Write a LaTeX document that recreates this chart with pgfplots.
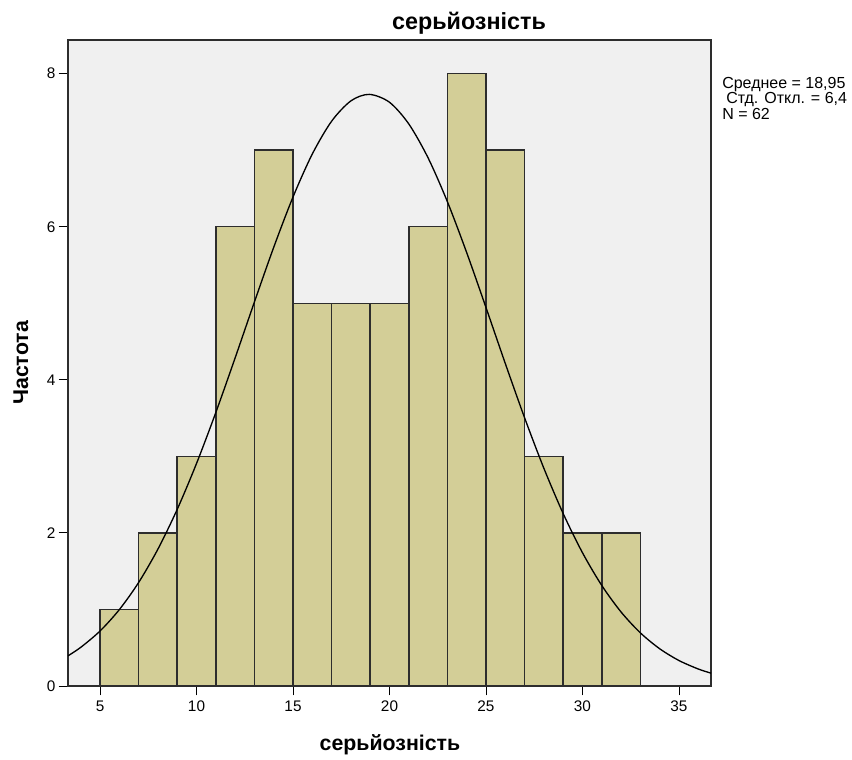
\documentclass[border=0pt]{standalone}
\usepackage{pgfplots}
\pgfplotsset{compat=1.18}
\usepackage{fontspec}
\setmainfont{Liberation Sans}
\definecolor{barfill}{RGB}{211,206,151}
\definecolor{bgc}{RGB}{240,240,240}
\definecolor{edge}{RGB}{45,45,45}
\begin{document}
\begin{tikzpicture}
\begin{axis}[
  at={(0,0)}, anchor=south west,
  scale only axis,
  width=482.25pt, height=484.5pt,
  xmin=3.34, xmax=36.66, ymin=0, ymax=8.44,
  axis background/.style={fill=bgc},
  axis line style={draw=edge, line width=1.1pt},
  xtick={5,10,...,35}, ytick={0,2,4,6,8},
  tick align=outside, tick pos=left,
  major tick length=7pt,
  tick style={draw=black, line width=0.7pt},
  ticklabel style={font=\fontsize{11.5}{13}\selectfont},
  /pgf/number format/assume math mode=true,
  xticklabel style={yshift=-0.5pt},
  yticklabel style={xshift=1pt},
  clip=true,
]
\addplot[ybar interval, fill=barfill, draw=edge, line width=1.1pt]
coordinates {(5,1) (7,2) (9,3) (11,6) (13,7) (15,5) (17,5) (19,5) (21,6) (23,8) (25,7) (27,3) (29,2) (31,2) (33,2)};
\addplot[smooth, black, line width=1pt] coordinates {
(3.34,0.3946) (4,0.5050) (5,0.7185) (6,0.9979) (7,1.3523) (8,1.7885) (9,2.3083)
(10,2.9074) (11,3.5736) (12,4.2862) (13,5.0173) (14,5.7314) (15,6.3889)
(16,6.9506) (17,7.3789) (18,7.6448) (18.95,7.7295) (20,7.6262) (21,7.3430)
(22,6.8996) (23,6.3271) (24,5.6619) (25,4.9446) (26,4.2137) (27,3.5045)
(28,2.8441) (29,2.2526) (30,1.7412) (31,1.3133) (32,0.9667) (33,0.6944)
(34,0.4868) (35,0.3329) (36,0.2222) (36.66,0.1680)};
\end{axis}
\node[font=\bfseries\fontsize{17.5}{20}\selectfont] at (300.75pt,497pt) {серьйозність};
\node[font=\bfseries\fontsize{16}{18}\selectfont] at (241.5pt,-44.25pt) {серьйозність};
\node[font=\bfseries\fontsize{16}{18}\selectfont, rotate=90] at (-35.25pt,242.25pt) {Частота};
\node[font=\fontsize{12}{10.5}\selectfont, anchor=north west, align=left, inner sep=0pt] at (490.5pt,457pt)
  {Среднее = 18,95\\\hspace*{3pt}Стд. Откл. = 6,4\\N = 62};
\path[use as bounding box] (-51pt,-52.5pt) rectangle (588pt,514.5pt);
\end{tikzpicture}
\end{document}
